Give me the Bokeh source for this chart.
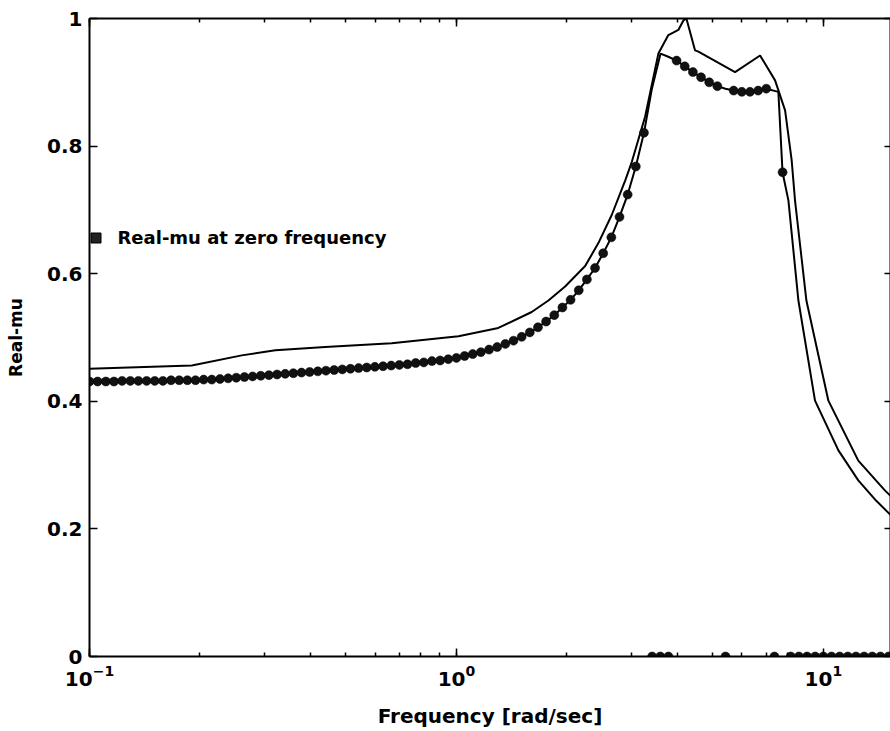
from bokeh.plotting import figure
from bokeh.models import (LogAxis, LinearAxis, FixedTicker, LogTicker, Legend, LegendItem,
                          Range1d, NumeralTickFormatter)
from bokeh.embed import file_html
from bokeh.resources import INLINE

# ---------------- data ----------------
# upper curve (solid line)
freq_upper = [0.1, 0.19, 0.26, 0.321, 0.439, 0.666, 1.013, 1.301, 1.604, 1.781, 1.978,
              2.243, 2.437, 2.65, 2.883, 3.005, 3.267, 3.551, 3.781, 4.026, 4.155, 4.234,
              4.471, 4.565, 5.746, 6.723, 7.386, 7.865, 8.196, 8.373, 8.99, 10.32, 12.45,
              14.73, 15.24]
mu_upper = [0.451, 0.456, 0.472, 0.480, 0.485, 0.491, 0.502, 0.515, 0.540, 0.558, 0.580,
            0.612, 0.648, 0.692, 0.746, 0.775, 0.846, 0.945, 0.974, 0.982, 0.997, 1.0,
            0.950, 0.948, 0.916, 0.942, 0.903, 0.856, 0.778, 0.714, 0.558, 0.401, 0.307,
            0.260, 0.252]

# frequency grid of the computed points (dots)
freq_pts = [0.1000, 0.1052, 0.1108, 0.1166, 0.1227, 0.1292, 0.1359, 0.1431, 0.1506, 0.1585,
            0.1668, 0.1756, 0.1848, 0.1945, 0.2047, 0.2154, 0.2268, 0.2387, 0.2512, 0.2644,
            0.2783, 0.2929, 0.3083, 0.3245, 0.3415, 0.3594, 0.3783, 0.3981, 0.4190, 0.4410,
            0.4642, 0.4886, 0.5142, 0.5412, 0.5696, 0.5995, 0.6310, 0.6641, 0.6990, 0.7356,
            0.7743, 0.8149, 0.8577, 0.9027, 0.9501, 1.0000, 1.0525, 1.1078, 1.1659, 1.2271,
            1.2915, 1.3594, 1.4307, 1.5058, 1.5849, 1.6681, 1.7556, 1.8478, 1.9448, 2.0469,
            2.1544, 2.2675, 2.3865, 2.5119, 2.6437, 2.7826, 2.9286, 3.0824, 3.2442, 3.4145,
            3.5938, 3.7824, 3.9811, 4.1900, 4.4101, 4.6416, 4.8853, 5.1417, 5.4117, 5.6958,
            5.9948, 6.3096, 6.6409, 6.9895, 7.3564, 7.7426, 8.1491, 8.5770, 9.0272, 9.5012,
            10.000, 10.525, 11.078, 11.659, 12.271, 12.915, 13.594, 14.307, 15.058]
# lower bound at those frequencies (0 where no bound was found)
mu_pts = [0.431, 0.431, 0.431, 0.431, 0.432, 0.432, 0.432, 0.432, 0.432, 0.432,
          0.433, 0.433, 0.433, 0.433, 0.434, 0.434, 0.435, 0.436, 0.437, 0.438,
          0.439, 0.440, 0.441, 0.442, 0.443, 0.444, 0.445, 0.446, 0.447, 0.448,
          0.449, 0.450, 0.451, 0.452, 0.453, 0.454, 0.455, 0.456, 0.457, 0.458,
          0.460, 0.461, 0.463, 0.464, 0.466, 0.468, 0.471, 0.474, 0.477, 0.481,
          0.485, 0.490, 0.495, 0.501, 0.508, 0.516, 0.525, 0.535, 0.547, 0.559,
          0.574, 0.591, 0.609, 0.632, 0.657, 0.689, 0.724, 0.768, 0.821, 0.0,
          0.0, 0.0, 0.934, 0.925, 0.916, 0.908, 0.900, 0.894, 0.0, 0.887,
          0.885, 0.885, 0.887, 0.890, 0.0, 0.759, 0.0, 0.0, 0.0, 0.0,
          0.0, 0.0, 0.0, 0.0, 0.0, 0.0, 0.0, 0.0, 0.0]

# lower curve (solid line through the dots)
freq_lower = freq_pts[:69] + [3.41, 3.60, 3.78] + freq_pts[72:78] + [5.41] + freq_pts[79:84] + \
             [7.54, 7.74, 8.03, 8.55, 9.49, 10.99, 12.45, 13.94, 15.24]
mu_lower = mu_pts[:69] + [0.890, 0.945, 0.940] + mu_pts[72:78] + [0.890] + mu_pts[79:84] + \
           [0.885, 0.759, 0.715, 0.558, 0.401, 0.323, 0.276, 0.244, 0.222]

# value at zero frequency (shown at the left edge of the log axis)
freq_zero = [0.1]
mu_zero = [0.657]

y_ticks = [0, 0.2, 0.4, 0.6, 0.8, 1]
x_range_lim = (0.1, 15.24)

# ---------------- figure ----------------
p = figure(width=890, height=731, x_axis_type="log",
           x_range=Range1d(*x_range_lim), y_range=Range1d(0, 1),
           output_backend="svg", toolbar_location=None,
           min_border_left=89, min_border_top=18, min_border_bottom=75, min_border_right=0,
           background_fill_color="white", border_fill_color="white")
p.grid.visible = False
p.outline_line_color = None

font = "DejaVu Sans"

# bottom axis
xa = p.xaxis[0]
xa.ticker = LogTicker(num_minor_ticks=10)
xa.axis_label = "Frequency [rad/sec]"
xa.axis_label_text_font = font
xa.axis_label_text_font_size = "20px"
xa.axis_label_text_font_style = "bold"
xa.axis_label_text_color = "black"
xa.axis_label_standoff = 15
xa.major_label_text_font = font
xa.major_label_text_font_size = "20px"
xa.major_label_text_font_style = "bold"
xa.major_label_text_color = "black"
xa.major_label_standoff = 8
xa.major_tick_in = 8
xa.major_tick_out = 0
xa.minor_tick_in = 4
xa.minor_tick_out = 0
xa.axis_line_width = 2
xa.major_tick_line_width = 1.5
xa.minor_tick_line_width = 1.5

# left axis
ya = p.yaxis[0]
ya.ticker = FixedTicker(ticks=y_ticks, minor_ticks=[])
ya.formatter = NumeralTickFormatter(format="0.[0]")
ya.axis_label = "Real-mu"
ya.axis_label_text_font = font
ya.axis_label_text_font_size = "17px"
ya.axis_label_text_font_style = "bold"
ya.axis_label_text_color = "black"
ya.axis_label_standoff = 18
ya.major_label_text_font = font
ya.major_label_text_font_size = "20px"
ya.major_label_text_font_style = "bold"
ya.major_label_text_color = "black"
ya.major_label_standoff = 7
ya.major_tick_in = 8
ya.major_tick_out = 0
ya.minor_tick_in = 0
ya.minor_tick_out = 0
ya.axis_line_width = 2
ya.major_tick_line_width = 1.5

# top axis (ticks only, empty labels)
top = LogAxis(ticker=LogTicker(num_minor_ticks=10), major_tick_in=8, major_tick_out=0,
              minor_tick_in=4, minor_tick_out=0, major_label_text_font_size="2px",
              major_label_overrides={0.1: "", 1: "", 10: ""},
              major_label_standoff=0, axis_line_width=2, major_tick_line_width=1.5,
              minor_tick_line_width=1.5)
p.add_layout(top, "above")

# right axis (ticks only, empty labels)
right = LinearAxis(ticker=FixedTicker(ticks=y_ticks, minor_ticks=[]), major_tick_in=6,
                   major_tick_out=0, minor_tick_in=0, minor_tick_out=0,
                   major_label_text_font_size="2px",
                   major_label_overrides={t: "" for t in y_ticks},
                   major_label_standoff=0,
                   axis_line_width=2, major_tick_line_width=1.5)
p.add_layout(right, "right")

# curves
p.line(freq_upper, mu_upper, line_color="black", line_width=2)
p.line(freq_lower, mu_lower, line_color="black", line_width=2)
p.scatter(freq_pts, mu_pts, marker="circle", size=9, fill_color="#111111",
          line_color="black", line_width=0.5)

# zero-frequency value: shown through its legend glyph next to the left axis
r_zero = p.scatter(freq_zero, mu_zero, marker="square", size=10, fill_color="#222222",
                   line_color="black", line_width=1, visible=False)

legend = Legend(items=[LegendItem(label="Real-mu at zero frequency", renderers=[r_zero])],
                location=(-6.5, 406.5), padding=0, margin=0, spacing=0,
                border_line_color=None, background_fill_alpha=0,
                inactive_fill_alpha=0,
                glyph_width=25, glyph_height=25, label_height=25, label_standoff=10,
                label_text_font=font, label_text_font_size="18px",
                label_text_font_style="bold", label_text_color="black")
p.add_layout(legend)

open("out.html", "w").write(file_html(p, INLINE))
